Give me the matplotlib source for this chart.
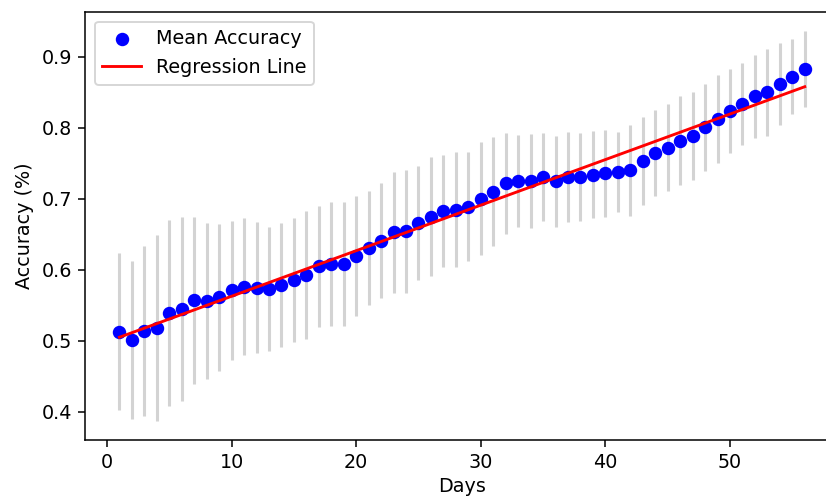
import numpy as np
import matplotlib
matplotlib.use('Agg')
import matplotlib.pyplot as plt

# mean accuracy per day and its spread
days = np.arange(1, 57)
mean_acc = [0.513, 0.501, 0.514, 0.518, 0.539, 0.545, 0.557, 0.556, 0.561, 0.571,
            0.576, 0.575, 0.573, 0.578, 0.586, 0.593, 0.605, 0.608, 0.608, 0.619,
            0.631, 0.641, 0.653, 0.654, 0.666, 0.675, 0.683, 0.685, 0.689, 0.700,
            0.710, 0.722, 0.725, 0.725, 0.731, 0.725, 0.731, 0.731, 0.734, 0.736,
            0.738, 0.740, 0.753, 0.765, 0.772, 0.782, 0.788, 0.801, 0.813, 0.824,
            0.834, 0.845, 0.850, 0.862, 0.872, 0.883]
std_acc = [0.1105, 0.111, 0.120, 0.1305, 0.1315, 0.1295, 0.118, 0.110, 0.104, 0.098,
           0.0965, 0.092, 0.088, 0.0875, 0.0875, 0.0905, 0.085, 0.0875, 0.0875, 0.0845,
           0.0805, 0.081, 0.0855, 0.087, 0.080, 0.084, 0.0795, 0.0815, 0.077, 0.0795,
           0.077, 0.071, 0.065, 0.0665, 0.0615, 0.064, 0.0635, 0.0615, 0.061, 0.0615,
           0.0565, 0.0635, 0.062, 0.0605, 0.0615, 0.0625, 0.062, 0.0615, 0.062, 0.0595,
           0.0575, 0.0585, 0.061, 0.058, 0.053, 0.053]

slope, intercept = np.polyfit(days, mean_acc, 1)

dpi = 138
fig = plt.figure(figsize=(826 / dpi, 497 / dpi), dpi=dpi)
ax = fig.add_axes([85.2 / 826, 57 / 497, 753.8 / 826, 428 / 497])

ax.errorbar(days, mean_acc, yerr=std_acc, fmt='none', ecolor='lightgray', elinewidth=1.6)
ax.scatter(days, mean_acc, color='blue', label='Mean Accuracy', zorder=3)
ax.plot(days, slope * days + intercept, color='red', label='Regression Line', zorder=4)

ax.set_xlabel('Days', labelpad=2.5)
ax.set_ylabel('Accuracy (%)')
ax.legend(loc='upper left')

fig.savefig('out.png', dpi=dpi)
